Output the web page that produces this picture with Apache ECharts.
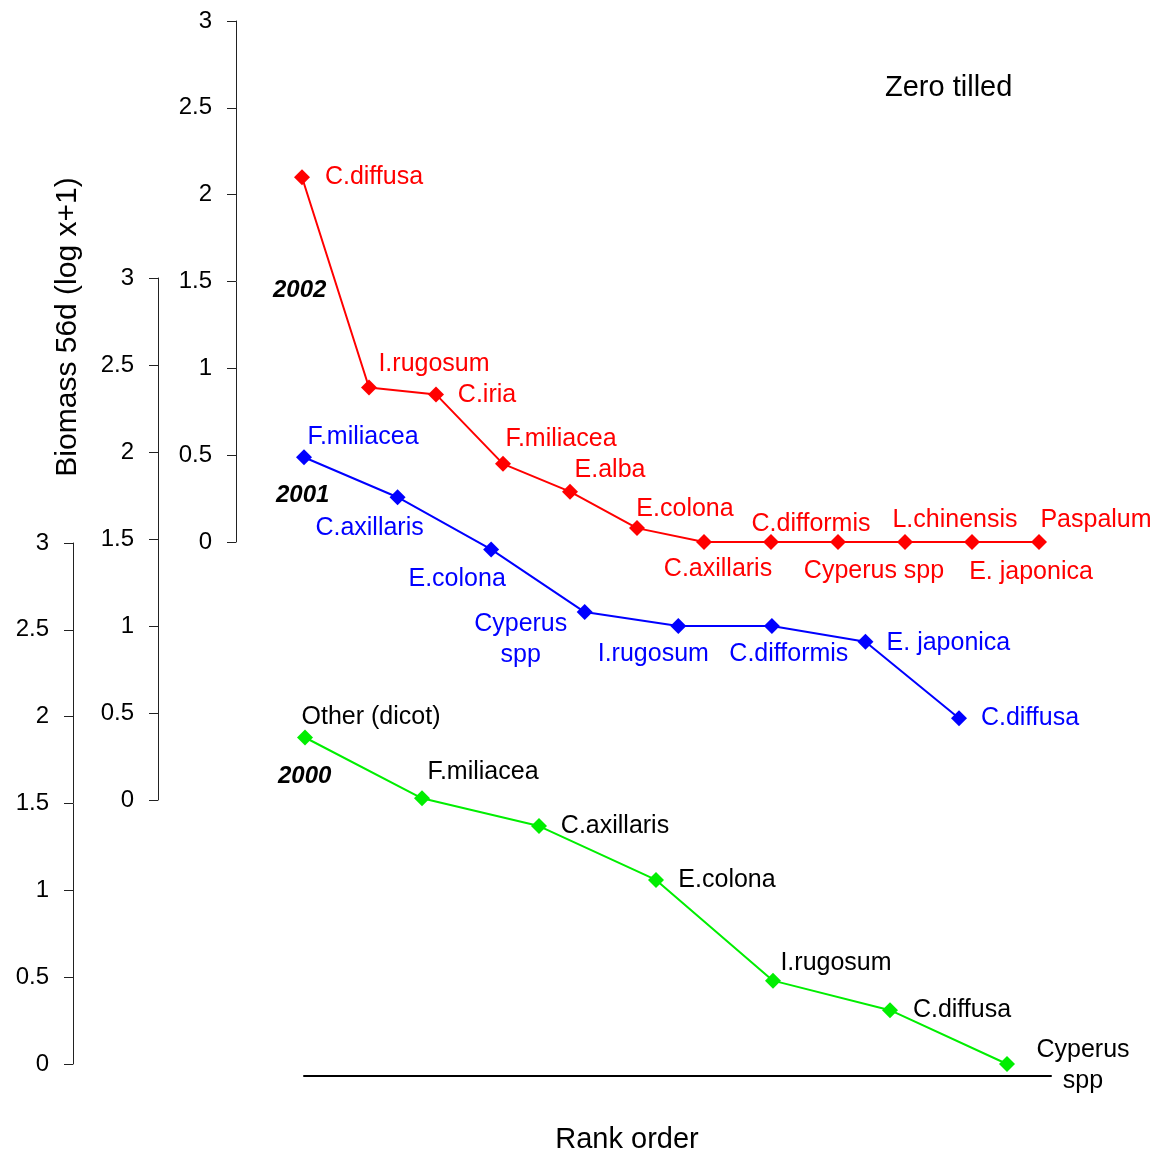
<!DOCTYPE html>
<html>
<head>
<meta charset="utf-8">
<script src="https://cdn.jsdelivr.net/npm/echarts@6/dist/echarts.min.js"></script>
<style>
html,body{margin:0;padding:0;background:#fff;}
#chart{width:1163px;height:1156px;}
</style>
</head>
<body>
<div id="chart"></div>
<script>
// ---- Data ----
const species2002 = ['C.diffusa','I.rugosum','C.iria','F.miliacea','E.alba','E.colona','C.axillaris','C.difformis','Cyperus spp','L.chinensis','E. japonica','Paspalum'];
const biomass2002 = [2.10, 0.89, 0.85, 0.45, 0.29, 0.08, 0, 0, 0, 0, 0, 0];

const species2001 = ['F.miliacea','C.axillaris','E.colona','Cyperus spp','I.rugosum','C.difformis','E. japonica','C.diffusa'];
const biomass2001 = [1.97, 1.74, 1.44, 1.08, 1.00, 1.00, 0.91, 0.47];

const species2000 = ['Other (dicot)','F.miliacea','C.axillaris','E.colona','I.rugosum','C.diffusa','Cyperus spp'];
const biomass2000 = [1.88, 1.53, 1.37, 1.06, 0.48, 0.31, 0];

const yearLabels = ['2002','2001','2000'];
const yTickLabels = ['0','0.5','1','1.5','2','2.5','3'];

// ---- Label layout (offset of label centre from point, px) ----
const labelOffsets2002 = [[72,0],[65,-23],[51,1],[58,-25],[40,-22],[48,-19],[14,27],[40,-18],[36,29],[50,-22],[59,30],[57,-22]];
const labelOffsets2001 = [[59,-20],[-28,31],[-34,30],[-64,28],[-25,28],[17,28],[83,1],[71,0]];
const labelOffsets2000 = [[66,-20],[61,-26],[76,0],[71,0],[63,-18],[72,0],[76,2]];

const FONT = "'Liberation Sans', Arial, Helvetica, sans-serif";

function yAxisCfg(gridIndex, offset) {
  return {
    type: 'value', gridIndex: gridIndex, min: 0, max: 3, interval: 0.5,
    offset: offset,
    axisLine: {show: true, lineStyle: {color: '#222', width: 1}},
    axisTick: {show: true, inside: false, length: 9, lineStyle: {color: '#222', width: 1}},
    axisLabel: {color: '#000', fontSize: 24, fontFamily: FONT, margin: 24,
      formatter: function (v) { return yTickLabels[Math.round(v * 2)]; }},
    splitLine: {show: false}
  };
}
function xAxisCfg(gridIndex, cats) {
  return {type: 'category', gridIndex: gridIndex, data: cats, boundaryGap: false, show: false};
}
function seriesCfg(idx, vals, offsets, color, labelColor, wrapSpp) {
  return {
    type: 'line', xAxisIndex: idx, yAxisIndex: idx, clip: false,
    symbol: 'diamond', symbolSize: 16,
    lineStyle: {color: color, width: 2},
    itemStyle: {color: color},
    data: vals.map(function (v, i) {
      return {value: v, label: {offset: offsets[i]}};
    }),
    label: {
      show: true, position: 'inside', align: 'center', verticalAlign: 'middle',
      color: labelColor, fontSize: 25, fontFamily: FONT, lineHeight: 31,
      formatter: function (p) { return wrapSpp ? p.name.replace(' spp', '\nspp') : p.name; }
    },
    emphasis: {disabled: true},
    animation: false
  };
}

const chart = echarts.init(document.getElementById('chart'), null, {renderer: 'canvas'});
chart.setOption({
  backgroundColor: '#fff',
  animation: false,
  grid: [
    {left: 302, top: 21, width: 737, height: 521},
    {left: 304, top: 278, width: 655, height: 522},
    {left: 305, top: 543, width: 702, height: 521},
    {left: 304, top: 1000, width: 747, height: 76}
  ],
  xAxis: [
    xAxisCfg(0, species2002),
    xAxisCfg(1, species2001),
    xAxisCfg(2, species2000),
    {type: 'value', gridIndex: 3, min: 0, max: 1, show: true,
     axisLine: {show: true, onZero: false, lineStyle: {color: '#000', width: 2}},
     axisTick: {show: false}, axisLabel: {show: false}, splitLine: {show: false}}
  ],
  yAxis: [
    yAxisCfg(0, 66),
    yAxisCfg(1, 146),
    yAxisCfg(2, 232),
    {type: 'value', gridIndex: 3, min: 0, max: 1, show: false}
  ],
  series: [
    seriesCfg(0, biomass2002, labelOffsets2002, '#ff0000', '#ff0000', false),
    seriesCfg(1, biomass2001, labelOffsets2001, '#0000ff', '#0000ff', true),
    seriesCfg(2, biomass2000, labelOffsets2000, '#00ee00', '#000000', true),
    {type: 'line', xAxisIndex: 3, yAxisIndex: 3, data: [], silent: true}
  ],
  graphic: [
    {type: 'text', left: 885, top: 73, style: {text: 'Zero tilled', fontSize: 29, fontFamily: FONT, fill: '#000'}},
    {type: 'text', x: 68, y: 327, rotation: Math.PI / 2,
     style: {text: 'Biomass 56d (log x+1)', fontSize: 30, fontFamily: FONT, fill: '#000', align: 'center', verticalAlign: 'middle'}},
    {type: 'text', x: 627, y: 1140,
     style: {text: 'Rank order', fontSize: 29, fontFamily: FONT, fill: '#000', align: 'center', verticalAlign: 'middle'}},
    {type: 'text', x: 273, y: 290,
     style: {text: yearLabels[0], fontSize: 24, fontWeight: 'bold', fontStyle: 'italic', fontFamily: FONT, fill: '#000', align: 'left', verticalAlign: 'middle'}},
    {type: 'text', x: 276, y: 495,
     style: {text: yearLabels[1], fontSize: 24, fontWeight: 'bold', fontStyle: 'italic', fontFamily: FONT, fill: '#000', align: 'left', verticalAlign: 'middle'}},
    {type: 'text', x: 278, y: 776,
     style: {text: yearLabels[2], fontSize: 24, fontWeight: 'bold', fontStyle: 'italic', fontFamily: FONT, fill: '#000', align: 'left', verticalAlign: 'middle'}}
  ]
});
</script>
</body>
</html>
